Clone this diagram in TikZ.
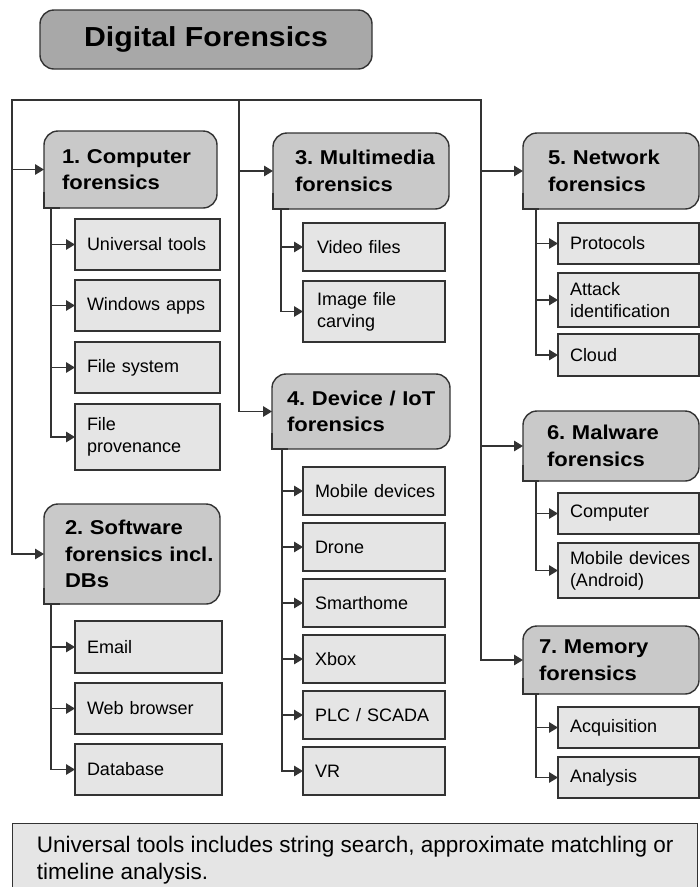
\documentclass[tikz,border=0pt]{standalone}
\usepackage{fontspec}
\setmainfont{Liberation Sans}
\newfontfamily\widefont[FakeStretch=1.1]{Liberation Sans}
\usetikzlibrary{arrows.meta}
\definecolor{edge}{HTML}{333333}
\definecolor{titlefill}{HTML}{A8A8A8}
\definecolor{catfill}{HTML}{C9C9C9}
\definecolor{subfill}{HTML}{E5E5E5}
\newcommand{\nohy}{\hyphenpenalty=10000\exhyphenpenalty=10000\relax}
\begin{document}
\begin{tikzpicture}[x=1pt,y=-1pt,
  conn/.style={draw=edge, line width=1.3pt, line cap=rect},
  arr/.style={conn, -{Triangle[length=9pt,width=10.5pt]}},
  boxline/.style={draw=edge, line width=1.4pt},
  titlebox/.style={boxline, fill=titlefill, rounded corners=14pt, inner sep=0pt,
    minimum width=332pt, minimum height=59pt,
    font=\widefont\bfseries\fontsize{27.5}{32}\selectfont},
  catbox/.style={boxline, fill=catfill, rounded corners=14pt, outer sep=0pt,
    align=left, inner ysep=2pt,
    font=\widefont\bfseries\fontsize{20}{26.5}\selectfont\nohy},
  subbox/.style={boxline, fill=subfill, outer sep=0pt, align=left, inner ysep=1pt,
    font=\fontsize{18}{22}\selectfont\nohy},
  notebox/.style={boxline, fill=subfill, align=left, inner xsep=0pt, inner ysep=12pt,
    minimum width=685pt, anchor=north west,
    font=\fontsize{22.5}{27}\selectfont}
]
\useasboundingbox (0,0) rectangle (700,887);

% title
\node[titlebox] (title) at (206,39.5) {Digital Forensics};

% categories
\node[catbox, minimum width=173pt, minimum height=77pt, inner xsep=18pt, text width=137pt] (c1) at (130.5,169.5) {1.~Computer\\forensics};
\node[catbox, minimum width=176pt, minimum height=100pt, inner xsep=21pt, text width=134pt] (c2) at (132,554) {2.~Software\\forensics~incl.\\DBs};
\node[catbox, minimum width=176pt, minimum height=76pt, inner xsep=22pt, text width=132pt] (c3) at (361,171) {3.~Multimedia\\forensics};
\node[catbox, minimum width=178pt, minimum height=75pt, inner xsep=15pt, text width=148pt] (c4) at (361,411.5) {4.~Device~/~IoT\\forensics};
\node[catbox, minimum width=176pt, minimum height=76pt, inner xsep=25pt, text width=126pt] (c5) at (611,171) {5.~Network\\forensics};
\node[catbox, minimum width=176pt, minimum height=70pt, inner xsep=24pt, text width=128pt] (c6) at (611,446) {6.~Malware\\forensics};
\node[catbox, minimum width=176pt, minimum height=68pt, inner xsep=16pt, text width=144pt] (c7) at (611,660) {7.~Memory\\forensics};

% square bottom-left corners of the category boxes
\foreach \n in {c1,c2,c3,c4,c5,c6,c7}{
  \fill[catfill] (\n.south west) rectangle ++(16,-16);
  \draw[boxline] ([yshift=16pt]\n.south west) -- (\n.south west) -- ([xshift=16pt]\n.south west);
}

% group 1
\begin{scope}[every node/.style={subbox, minimum width=145pt, inner xsep=12pt, text width=121pt}]
\node[minimum height=51pt] (s11) at (147.5,244.5) {Universal~tools};
\node[minimum height=51pt] (s12) at (147.5,305.5) {Windows~apps};
\node[minimum height=51pt] (s13) at (147.5,367.5) {File system};
\node[minimum height=66pt] (s14) at (147.5,437) {File\\provenance};
\end{scope}
% group 2
\begin{scope}[every node/.style={subbox, minimum width=147pt, inner xsep=12pt, text width=123pt}]
\node[minimum height=52pt] (s21) at (148.5,647) {Email};
\node[minimum height=51pt] (s22) at (148.5,708.5) {Web browser};
\node[minimum height=51pt] (s23) at (148.5,769.5) {Database};
\end{scope}
% group 3
\begin{scope}[every node/.style={subbox, minimum width=142pt, inner xsep=14pt, text width=114pt}]
\node[minimum height=48pt] (s31) at (374,247) {Video files};
\node[minimum height=61pt] (s32) at (374,311.5) {Image file\\carving};
\end{scope}
% group 4
\begin{scope}[every node/.style={subbox, minimum width=142pt, minimum height=48pt, inner xsep=12pt, text width=118pt}]
\node (s41) at (374,491) {Mobile~devices};
\node (s42) at (374,547) {Drone};
\node (s43) at (374,603) {Smarthome};
\node (s44) at (374,659) {Xbox};
\node (s45) at (374,715) {PLC~/~SCADA};
\node (s46) at (374,771) {VR};
\end{scope}
% groups 5, 6, 7
\begin{scope}[every node/.style={subbox, minimum width=141pt, inner xsep=12pt, text width=117pt}]
\node[minimum height=41pt] (s51) at (628.5,243.5) {Protocols};
\node[minimum height=54pt] (s52) at (628.5,300) {Attack\\identification};
\node[minimum height=42pt] (s53) at (628.5,355) {Cloud};
\node[minimum height=41pt] (s61) at (628.5,513.5) {Computer};
\node[minimum height=55pt] (s62) at (628.5,570.5) {Mobile~devices\\(Android)};
\node[minimum height=41pt] (s71) at (628.5,727.5) {Acquisition};
\node[minimum height=41pt] (s72) at (628.5,777.5) {Analysis};
\end{scope}

% note
\node[notebox] (note) at (12,823) {Universal tools includes string search, approximate matchling or\\timeline analysis.};

% trunk connectors
\coordinate (tL) at (12,100);
\coordinate (tM) at (239,100);
\coordinate (tR) at (481,100);
\draw[conn] (tL) -- (tR);
\draw[arr] (tL) -- (tL |- c2.west) -- (c2.west);
\draw[arr] (tL |- c1.west) -- (c1.west);
\draw[arr] (tM) -- (tM |- c4.west) -- (c4.west);
\draw[arr] (tM |- c3.west) -- (c3.west);
\draw[arr] (tR) -- (tR |- c7.west) -- (c7.west);
\draw[arr] (tR |- c5.west) -- (c5.west);
\draw[arr] (tR |- c6.west) -- (c6.west);

% sub-list connectors
\coordinate (v1) at (51,0);
\coordinate (v3) at (281,0);
\coordinate (v4) at (282,0);
\coordinate (v5) at (536,0);
\draw[arr] (v1 |- c1.south) -- (v1 |- s14.west) -- (s14.west);
\foreach \s in {s11,s12,s13} \draw[arr] (v1 |- \s.west) -- (\s.west);
\draw[arr] (v1 |- c2.south) -- (v1 |- s23.west) -- (s23.west);
\foreach \s in {s21,s22} \draw[arr] (v1 |- \s.west) -- (\s.west);
\draw[arr] (v3 |- c3.south) -- (v3 |- s32.west) -- (s32.west);
\draw[arr] (v3 |- s31.west) -- (s31.west);
\draw[arr] (v4 |- c4.south) -- (v4 |- s46.west) -- (s46.west);
\foreach \s in {s41,s42,s43,s44,s45} \draw[arr] (v4 |- \s.west) -- (\s.west);
\draw[arr] (v5 |- c5.south) -- (v5 |- s53.west) -- (s53.west);
\foreach \s in {s51,s52} \draw[arr] (v5 |- \s.west) -- (\s.west);
\draw[arr] (v5 |- c6.south) -- (v5 |- s62.west) -- (s62.west);
\draw[arr] (v5 |- s61.west) -- (s61.west);
\draw[arr] (v5 |- c7.south) -- (v5 |- s72.west) -- (s72.west);
\draw[arr] (v5 |- s71.west) -- (s71.west);
\end{tikzpicture}
\end{document}
